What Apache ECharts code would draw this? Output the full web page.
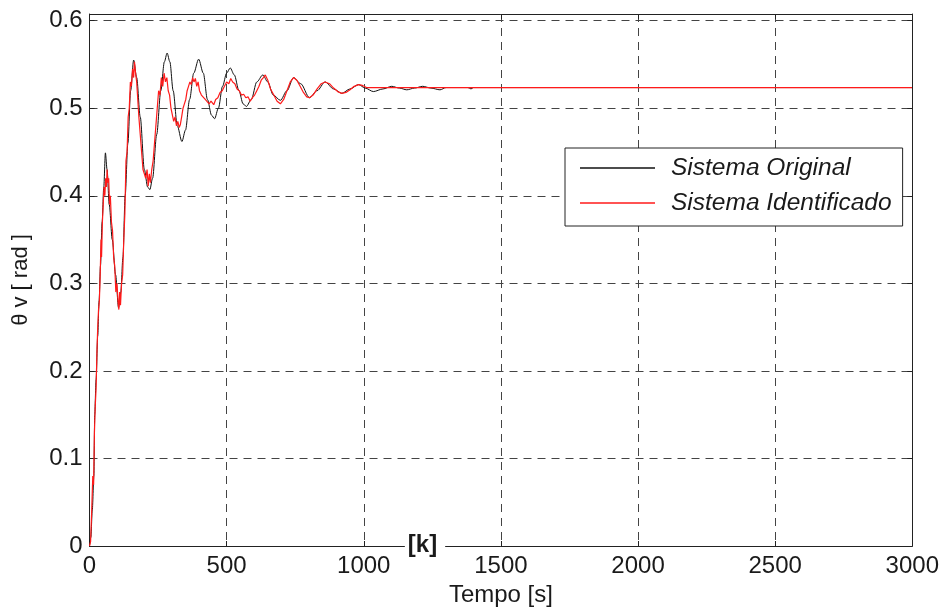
<!DOCTYPE html>
<html>
<head>
<meta charset="utf-8">
<script src="https://cdn.jsdelivr.net/npm/echarts@6/dist/echarts.min.js"></script>
<style>
  html, body { margin: 0; padding: 0; background: #fff; }
  #chart { width: 943px; height: 612px; }
</style>
</head>
<body>
<div id="chart"></div>
<script>
// Angular response θv [rad] versus time [s]
const seriesNames = ['Sistema Original', 'Sistema Identificado'];

// Original system: damped oscillation settling at ~0.5236 rad
const originalData = [
  [0, 0], [5, 0.01], [10, 0.04], [16, 0.08], [19, 0.15], [24, 0.19], [30, 0.24], [35, 0.28],
  [40, 0.32], [46, 0.37], [52, 0.41], [58, 0.449], [64, 0.43], [72, 0.39], [83, 0.35],
  [95, 0.31], [106, 0.272], [114, 0.29], [122, 0.33], [130, 0.40], [140, 0.46], [150, 0.52],
  [161, 0.555], [172, 0.535], [185, 0.49], [200, 0.43], [212, 0.41], [220, 0.407], [230, 0.42],
  [245, 0.47], [260, 0.52], [273, 0.553], [283, 0.563], [293, 0.553], [305, 0.52], [320, 0.48],
  [337, 0.462], [350, 0.475], [365, 0.51], [380, 0.54], [398, 0.556], [415, 0.54], [430, 0.51],
  [445, 0.492], [456, 0.488], [470, 0.50], [485, 0.525], [500, 0.54], [513, 0.546], [528, 0.538],
  [545, 0.52], [560, 0.505], [572, 0.502], [590, 0.51], [610, 0.53], [632, 0.538], [650, 0.53],
  [670, 0.515], [696, 0.509], [720, 0.52], [744, 0.535], [770, 0.528], [802, 0.512], [830, 0.52],
  [859, 0.530], [890, 0.522], [920, 0.517], [950, 0.522], [981, 0.527], [1005, 0.523],
  [1035, 0.519], [1070, 0.522], [1102, 0.525], [1130, 0.523], [1157, 0.521], [1185, 0.523],
  [1215, 0.525], [1245, 0.523], [1278, 0.521], [1300, 0.5236], [1380, 0.5236], [1391, 0.522],
  [1400, 0.5236], [3000, 0.5236]
];

// Identified model: noisier response with smaller mid-range swings
const identifiedData = [
  [0, 0], [4, 0.005], [8, 0.04], [12, 0.08], [15, 0.07], [18, 0.13], [21, 0.16], [24, 0.18],
  [27, 0.22], [30, 0.25], [33, 0.27], [36, 0.28], [39, 0.31], [42, 0.35], [44, 0.33], [47, 0.37],
  [50, 0.39], [53, 0.41], [56, 0.40], [59, 0.42], [62, 0.41], [64, 0.43], [67, 0.415], [70, 0.42],
  [73, 0.39], [76, 0.40], [80, 0.37], [84, 0.36], [88, 0.33], [92, 0.32], [96, 0.29], [100, 0.30],
  [104, 0.28], [107, 0.27], [110, 0.29], [113, 0.275], [117, 0.30], [121, 0.31], [125, 0.35],
  [129, 0.38], [133, 0.44], [137, 0.45], [141, 0.49], [145, 0.50], [149, 0.53], [153, 0.525],
  [157, 0.545], [161, 0.535], [164, 0.553], [168, 0.54], [172, 0.53], [176, 0.51], [180, 0.49],
  [185, 0.47], [190, 0.45], [195, 0.43], [200, 0.425], [205, 0.42], [210, 0.43], [214, 0.411],
  [218, 0.425], [222, 0.415], [227, 0.43], [232, 0.44], [237, 0.46], [242, 0.48], [247, 0.50],
  [252, 0.52], [257, 0.515], [262, 0.535], [267, 0.525], [272, 0.54], [277, 0.53], [282, 0.535],
  [287, 0.52], [292, 0.515], [297, 0.50], [302, 0.50], [307, 0.485], [312, 0.49], [317, 0.48],
  [322, 0.485], [327, 0.478], [331, 0.481], [336, 0.49], [341, 0.50], [346, 0.505], [351, 0.51],
  [356, 0.52], [361, 0.525], [366, 0.53], [371, 0.527], [376, 0.535], [381, 0.53], [386, 0.534],
  [391, 0.525], [396, 0.53], [401, 0.52], [408, 0.515], [415, 0.515], [422, 0.51], [429, 0.512],
  [436, 0.505], [443, 0.508], [453, 0.504], [460, 0.51], [468, 0.512], [476, 0.518], [484, 0.52],
  [492, 0.525], [500, 0.53], [508, 0.528], [515, 0.534], [522, 0.53], [530, 0.528], [538, 0.522],
  [546, 0.52], [554, 0.515], [562, 0.516], [570, 0.512], [578, 0.513], [586, 0.508], [594, 0.512],
  [602, 0.515], [610, 0.52], [618, 0.525], [626, 0.532], [634, 0.535], [641, 0.538], [650, 0.532],
  [660, 0.522], [672, 0.515], [684, 0.508], [696, 0.505], [708, 0.51], [720, 0.52], [732, 0.53],
  [744, 0.535], [756, 0.532], [768, 0.525], [780, 0.518], [792, 0.513], [802, 0.512], [815, 0.515],
  [830, 0.522], [845, 0.528], [859, 0.530], [875, 0.528], [890, 0.523], [905, 0.519], [920, 0.517],
  [935, 0.518], [950, 0.521], [965, 0.525], [981, 0.527], [995, 0.526], [1010, 0.5236],
  [3000, 0.5236]
];

const xRange = [0, 3000];
const xStep = 500;
const yRange = [0, 0.6076];
const yStep = 0.1;

const FONT = 'Arial, "Liberation Sans", Helvetica, sans-serif';
const TEXT = '#1a1a1a';
const FS = 24;

const chart = echarts.init(document.getElementById('chart'), null, { renderer: 'canvas' });

const gridDash = { show: true, showMinLine: false, showMaxLine: false,
  lineStyle: { color: '#444', type: [8, 6], width: 1 } };

const frameAxis = {
  axisLine: { show: true, onZero: false, lineStyle: { color: '#222', width: 1 } },
  axisTick: { show: true, inside: true, length: 5, lineStyle: { color: '#222' } },
  axisLabel: { show: false },
  splitLine: { show: false },
  z: 5
};

chart.setOption({
  animation: false,
  backgroundColor: '#fff',
  grid: { left: 89.5, right: 30.7, top: 14, bottom: 65, containLabel: false },
  legend: {
    orient: 'vertical',
    left: 565,
    top: 148,
    data: seriesNames,
    icon: 'rect',
    backgroundColor: '#fff',
    borderColor: '#222',
    borderWidth: 1,
    borderRadius: 0,
    padding: [7, 11, 10, 15],
    itemWidth: 75,
    itemHeight: 1.5,
    itemGap: 9,
    textStyle: { fontFamily: FONT, fontSize: 24.5, fontStyle: 'italic', color: TEXT, lineHeight: 26, padding: [0, 0, 0, 11] },
    selectedMode: false
  },
  xAxis: [
    {
      type: 'value', min: xRange[0], max: xRange[1], interval: xStep,
      name: 'Tempo [s]', nameLocation: 'middle', nameGap: 37,
      nameTextStyle: { fontFamily: FONT, fontSize: FS, color: TEXT },
      axisLine: { show: true, onZero: false, lineStyle: { color: '#222', width: 1 } },
      axisTick: { show: true, inside: true, length: 5, lineStyle: { color: '#222' } },
      axisLabel: { fontFamily: FONT, fontSize: FS, color: TEXT, margin: 8, formatter: v => String(v) },
      splitLine: gridDash
    },
    Object.assign({ type: 'value', position: 'top', min: xRange[0], max: xRange[1], interval: xStep }, frameAxis)
  ],
  yAxis: [
    {
      type: 'value', min: yRange[0], max: yRange[1], interval: yStep,
      name: 'θ v [ rad ]', nameLocation: 'middle', nameGap: 58, nameRotate: 90,
      nameTextStyle: { fontFamily: FONT, fontSize: 22, color: TEXT },
      axisLine: { show: true, onZero: false, lineStyle: { color: '#222', width: 1 } },
      axisTick: { show: true, inside: true, length: 5, lineStyle: { color: '#222' } },
      axisLabel: { fontFamily: FONT, fontSize: FS, color: TEXT, margin: 7, showMaxLabel: false,
        formatter: v => (v === 0 ? '0' : String(Math.round(v * 10) / 10)) },
      splitLine: gridDash
    },
    Object.assign({ type: 'value', position: 'right', min: yRange[0], max: yRange[1], interval: yStep }, frameAxis)
  ],
  graphic: [
    {
      type: 'text', x: 425, y: 545, z: 10,
      style: {
        text: '[k]', font: 'bold 24px ' + FONT, fill: '#1a1a1a',
        align: 'center', verticalAlign: 'middle',
        backgroundColor: '#fff', padding: [0, 8, 0, 3]
      }
    }
  ],
  series: [
    {
      name: seriesNames[0], type: 'line', data: originalData,
      symbol: 'none', smooth: 0.3, smoothMonotone: 'x',
      lineStyle: { color: '#111', width: 1 }, itemStyle: { color: '#111' }, z: 2
    },
    {
      name: seriesNames[1], type: 'line', data: identifiedData,
      symbol: 'none',
      lineStyle: { color: '#ff1a1a', width: 1.2 }, itemStyle: { color: '#ff1a1a' }, z: 3
    }
  ]
});
</script>
</body>
</html>
